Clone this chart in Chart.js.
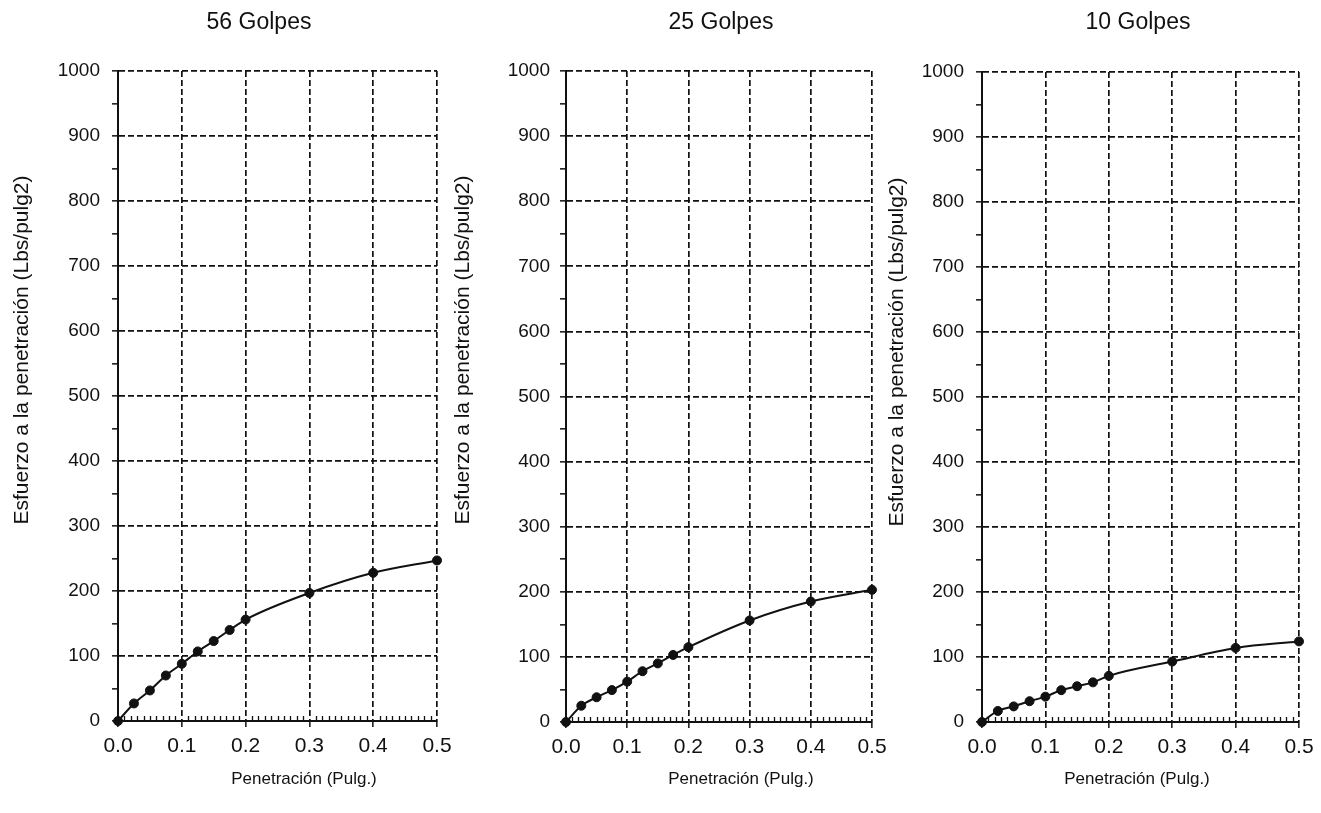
<!DOCTYPE html>
<html>
<head>
<meta charset="utf-8">
<script src="https://cdn.jsdelivr.net/npm/chart.js@4.4.1/dist/chart.umd.min.js"></script>
<style>
  html, body { margin: 0; padding: 0; background: #fff; overflow: hidden; width: 1321px; height: 813px; }
  canvas { position: absolute; left: 0; top: 0; }
</style>
</head>
<body>
<canvas id="c56"></canvas>
<canvas id="c25"></canvas>
<canvas id="c10"></canvas>
<script>
// Penetration readings (inches) shared by the three compaction efforts
const penetration = [0, 0.025, 0.05, 0.075, 0.1, 0.125, 0.15, 0.175, 0.2, 0.3, 0.4, 0.5];
// Penetration stress (lbs/in2) for each number of blows
const stress56 = [0, 27, 47, 70, 88, 107, 123, 140, 156, 197, 228, 247];
const stress25 = [0, 25, 38, 49, 62, 78, 90, 103, 115, 156, 185, 203];
const stress10 = [0, 17, 24, 32, 39, 49, 55, 61, 71, 93, 114, 124];
const panelTitles = ['56 Golpes', '25 Golpes', '10 Golpes'];
const xTickLabels = ['0.0', '0.1', '0.2', '0.3', '0.4', '0.5'];
const yTickLabels = ['0', '100', '200', '300', '400', '500', '600', '700', '800', '900', '1000'];
const xTitle = 'Penetración (Pulg.)';
const yTitle = 'Esfuerzo a la penetración (Lbs/pulg2)';

const FONT = '"Liberation Sans", Arial, sans-serif';
const INK = '#111';
const W = 1321, H = 813;
const Y_AXIS_W = 110;

// Small upward ticks along the penetration axis every 0.01 in
const minorTicks = {
  id: 'minorTicks',
  beforeDatasetsDraw(chart) {
    const { ctx, scales: { x, y } } = chart;
    const base = y.getPixelForValue(0);
    ctx.save();
    ctx.strokeStyle = INK;
    ctx.lineWidth = 1.3;
    ctx.beginPath();
    for (let i = 1; i < 50; i++) {
      if (i % 10 === 0) continue;
      const px = Math.round(x.getPixelForValue(i / 100)) + 0.5;
      ctx.moveTo(px, base);
      ctx.lineTo(px, base - 5);
    }
    ctx.stroke();
    ctx.restore();
  }
};

// Panel heading plus the two axis captions
const panelText = {
  id: 'panelText',
  afterDraw(chart, args, o) {
    const ctx = chart.ctx;
    ctx.save();
    ctx.fillStyle = INK;
    ctx.textAlign = 'center';
    ctx.textBaseline = 'middle';
    ctx.font = '23px ' + FONT;
    ctx.fillText(o.title, o.titleX, o.titleY);
    ctx.font = '17px ' + FONT;
    ctx.fillText(xTitle, o.xTitleX, o.xTitleY);
    ctx.translate(o.yTitleX, o.yTitleY);
    ctx.rotate(-Math.PI / 2);
    ctx.font = '21px ' + FONT;
    ctx.fillText(yTitle, 0, 0);
    ctx.restore();
  }
};

function makePanel(cfg) {
  const canvas = document.getElementById(cfg.id);
  canvas.width = W;
  canvas.height = H;

  return new Chart(canvas, {
    type: 'line',
    data: {
      datasets: [{
        data: penetration.map((p, i) => ({ x: p, y: cfg.values[i] })),
        borderColor: INK,
        borderWidth: 2,
        pointRadius: 4.5,
        pointBackgroundColor: INK,
        pointBorderColor: INK,
        pointBorderWidth: 1,
        cubicInterpolationMode: 'monotone',
        clip: false
      }]
    },
    options: {
      responsive: false,
      animation: false,
      events: [],
      layout: {
        padding: { left: cfg.plotLeft - Y_AXIS_W, top: cfg.plotTop, bottom: 0, right: W - cfg.plotRight }
      },
      plugins: {
        legend: { display: false },
        tooltip: { enabled: false },
        title: { display: false },
        panelText: cfg.text
      },
      scales: {
        x: {
          type: 'linear',
          min: 0,
          max: 0.5,
          afterFit(scale) { scale.height = H - cfg.plotBottom; },
          ticks: {
            stepSize: 0.1,
            color: INK,
            padding: 7,
            maxRotation: 0,
            font: { family: FONT, size: 21 },
            callback: (v) => xTickLabels[Math.round(v * 10)]
          },
          grid: {
            color: INK,
            lineWidth: 1.7,
            drawTicks: true,
            tickLength: 6,
            tickColor: INK,
            tickWidth: 1.5
          },
          border: { display: true, color: INK, width: 2, dash: [6, 3] },
          title: { display: false }
        },
        y: {
          type: 'linear',
          min: 0,
          max: 1000,
          afterFit(scale) { scale.width = Y_AXIS_W; },
          ticks: {
            stepSize: 50,
            color: INK,
            padding: cfg.yTickPad,
            font: { family: FONT, size: 19 },
            callback: (v) => (v % 100 === 0 ? yTickLabels[v / 100] : '')
          },
          grid: {
            color: (c) => (c.tick && c.tick.value % 100 === 0 ? INK : 'rgba(0,0,0,0)'),
            lineWidth: 1.7,
            drawTicks: true,
            tickLength: 6,
            tickColor: INK,
            tickWidth: 1.5
          },
          border: { display: true, color: INK, width: 2, dash: [6, 3] },
          title: { display: false }
        }
      }
    },
    plugins: [minorTicks, panelText]
  });
}

makePanel({
  id: 'c56', plotLeft: 118, plotRight: 437, plotTop: 71, plotBottom: 721, yTickPad: 12, values: stress56,
  text: { title: panelTitles[0], titleX: 259, titleY: 23, xTitleX: 304, xTitleY: 779, yTitleX: 22, yTitleY: 350 }
});
makePanel({
  id: 'c25', plotLeft: 566, plotRight: 872, plotTop: 71, plotBottom: 722, yTickPad: 10, values: stress25,
  text: { title: panelTitles[1], titleX: 721, titleY: 23, xTitleX: 741, xTitleY: 779, yTitleX: 463, yTitleY: 350 }
});
makePanel({
  id: 'c10', plotLeft: 982, plotRight: 1299, plotTop: 72, plotBottom: 722, yTickPad: 12, values: stress10,
  text: { title: panelTitles[2], titleX: 1138, titleY: 23, xTitleX: 1137, xTitleY: 779, yTitleX: 897, yTitleY: 352 }
});
</script>
</body>
</html>
